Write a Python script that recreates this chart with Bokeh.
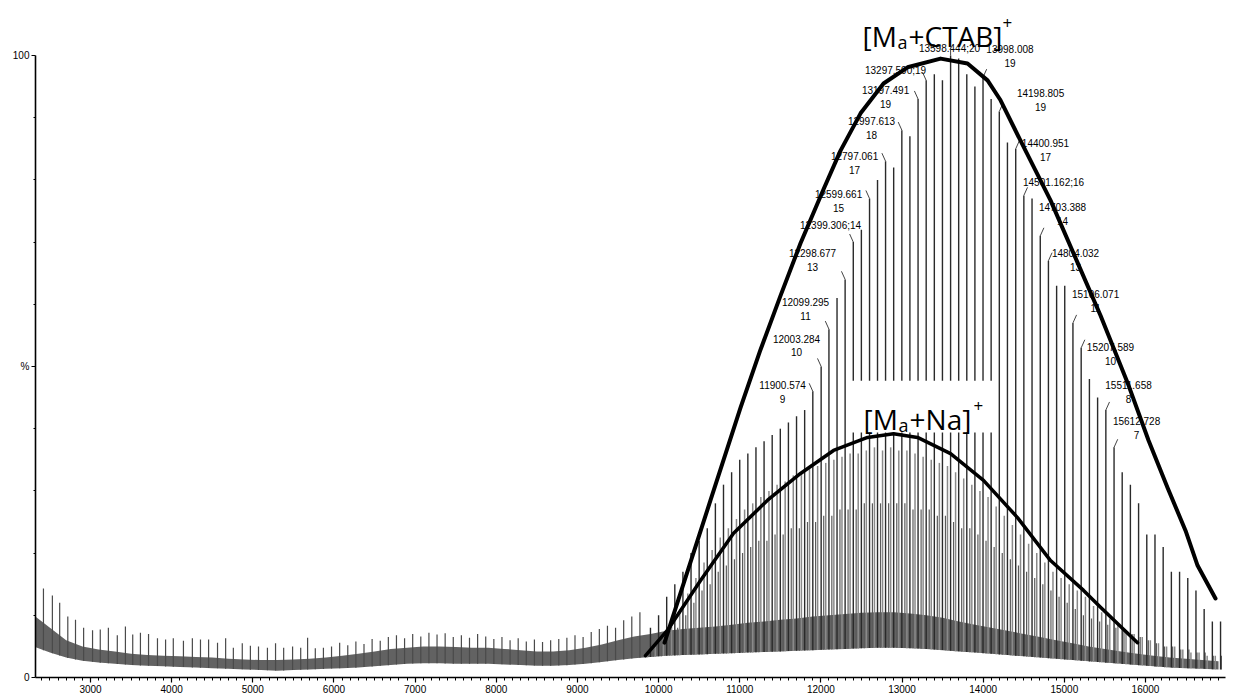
import numpy as np
from bokeh.plotting import figure
from bokeh.models import Range1d, SingleIntervalTicker, FixedTicker, Label, ColumnDataSource
from bokeh.core.properties import value
from bokeh.embed import file_html
from bokeh.resources import INLINE

# ---------------- data ----------------
# [Ma+CTAB]+ series (m/z, relative intensity %)
ctab_mz = [9900, 10000, 10100, 10200, 10300, 10400, 10500, 10600, 10700, 10800,
           10900, 11000, 11100, 11200, 11300, 11400, 11500, 11600, 11700, 11800,
           11900.574, 12003.284, 12099.295, 12199.0, 12298.677, 12399.306, 12499.0,
           12599.661, 12698.0, 12797.061, 12897.0, 12997.613, 13097.0, 13197.491,
           13297.590, 13398.0, 13498.0, 13598.444, 13698.0, 13798.0, 13898.0,
           13998.008, 14098.0, 14198.805, 14299.0, 14400.951, 14501.162, 14602.0,
           14703.388, 14804.032, 14905.0, 15005.0, 15106.071, 15207.589, 15309.0,
           15410.0, 15511.658, 15612.728, 15713.0, 15814.0, 15915.0, 16016.0,
           16117.0, 16218.0, 16319.0, 16420.0, 16521.0, 16622.0, 16723.0, 16824.0, 16925.0]
ctab_int = [8, 10, 13, 15, 17, 20, 22, 24, 28, 31,
            33, 35, 36, 37, 38, 39, 40, 41, 42, 43,
            46, 50, 56, 61, 64, 70, 72,
            77, 80, 83, 82, 88, 87, 93,
            96, 97, 96, 100, 99.5, 97, 95,
            96.5, 93, 91, 86, 85, 77.5, 77,
            71, 67, 63, 63, 57, 53, 48,
            45, 43, 37, 33, 31, 28, 23,
            23, 21, 17, 17, 16, 14, 11, 9, 9]

# [Ma+Na]+ series
na_mz = [9860, 9960, 10060, 10160, 10260, 10360, 10460, 10560, 10660, 10760,
         10860, 10960, 11060, 11160, 11260, 11360, 11460, 11560, 11660, 11760,
         11860, 11960, 12060, 12160, 12260, 12360, 12460, 12560, 12660, 12760,
         12860, 12960, 13060, 13160, 13260, 13360, 13460, 13560, 13660, 13760,
         13860, 13960, 14060, 14160, 14260, 14360, 14460, 14560, 14660, 14760,
         14860, 14960, 15060, 15160, 15260, 15360, 15460, 15560, 15660, 15760,
         15860, 15960, 16060, 16160, 16260, 16360, 16460, 16560, 16660, 16760, 16860]
na_int = [4, 5, 6.5, 8.5, 11, 13.5, 16, 18.5, 20.5, 22.5,
          24, 25.5, 27, 28, 29, 30, 31, 31.5, 32.5, 33,
          33.5, 34, 34.5, 35, 35.5, 36, 36, 36.5, 37, 36.5,
          37, 36.5, 36.5, 36, 35.5, 35, 34.5, 34, 33, 32,
          31, 30, 29, 27.5, 26, 24.5, 23, 21.5, 20, 18.5,
          17, 16, 15, 14, 13, 11.5, 10.5, 9.5, 8.5, 7.5,
          7, 6.5, 6, 5.5, 5, 5, 4.5, 4, 4, 3.5, 3.5]

# minor series between the two
oth_mz = [9935, 10035, 10135, 10235, 10335, 10435, 10535, 10635, 10735, 10835,
          10935, 11035, 11135, 11235, 11335, 11435, 11535, 11635, 11735, 11835,
          11935, 12035, 12135, 12235, 12335, 12435, 12535, 12635, 12735, 12835,
          12935, 13035, 13135, 13235, 13335, 13435, 13535, 13635, 13735, 13835,
          13935, 14035, 14135, 14235, 14335, 14435, 14535, 14635, 14735, 14835,
          14935, 15035, 15135, 15235, 15335, 15435, 15535, 15635, 15735, 15835,
          15935, 16035, 16135, 16235, 16335, 16435, 16535, 16635, 16735, 16835, 16935]
oth_int = [4, 5, 6, 8, 10, 12, 14, 15, 17, 18,
           19, 20, 21, 22, 22, 23, 23, 24, 24, 25,
           25, 26, 26, 27, 27, 27, 28, 28, 28, 28,
           28, 28, 27, 27, 27, 26, 26, 25, 24, 24,
           23, 22, 21, 20, 19, 18, 17, 16, 15, 14,
           13, 12, 11, 10, 9.5, 9, 8.5, 8, 7.5, 7,
           6.5, 6, 5.5, 5, 5, 4.5, 4.5, 4, 4, 3.5, 3.5]

# low-mass spikes
low_mz = [2420, 2530, 2620, 2720, 2815, 2915, 3025, 3120, 3220, 3330,
          3430, 3520, 3615, 3715, 3825, 3925, 4020, 4145, 4255, 4355,
          4455, 4565, 4665, 4760, 4870, 4970, 5070, 5180, 5280, 5380,
          5490, 5590, 5675, 5770, 5870, 5970, 6070, 6170, 6270, 6370,
          6470, 6570, 6670, 6770, 6870, 6970, 7070, 7170, 7270, 7370,
          7470, 7570, 7670, 7770, 7870, 7970, 8070, 8170, 8270, 8370,
          8470, 8570, 8670, 8770, 8870, 8970, 9070, 9170, 9270, 9370,
          9470, 9570, 9670, 9770]
low_int = [14.3, 13.2, 12.0, 9.8, 9.3, 8.0, 7.6, 7.7, 8.0, 6.8,
           8.2, 6.9, 7.2, 7.0, 6.3, 6.1, 6.3, 5.9, 6.3, 6.1,
           6.1, 5.6, 6.3, 4.8, 5.5, 5.1, 5.0, 4.8, 5.5, 4.8,
           5.0, 4.8, 6.4, 4.7, 4.8, 5.0, 5.6, 5.2, 5.8, 5.4,
           6.2, 5.9, 6.5, 6.8, 6.3, 7.0, 6.6, 7.2, 6.9, 7.1,
           6.5, 6.8, 6.4, 7.0, 6.6, 6.2, 6.5, 6.0, 6.3, 5.8,
           6.1, 5.7, 6.0, 6.2, 6.4, 6.8, 6.5, 7.3, 7.8, 8.3,
           8.0, 9.2, 9.8, 10.5]

# noise floor band
band_mz = [2300, 2500, 2700, 2900, 3100, 3300, 3500, 3700, 3900, 4100,
           4300, 4500, 4700, 4900, 5100, 5300, 5500, 5700, 5900, 6100,
           6300, 6500, 6700, 6900, 7100, 7300, 7500, 7700, 7900, 8100,
           8300, 8500, 8700, 8900, 9100, 9300, 9500, 9700, 9900, 10100,
           10300, 10500, 10700, 10900, 11100, 11300, 11500, 11700, 11900, 12100,
           12300, 12500, 12700, 12900, 13100, 13300, 13500, 13700, 13900, 14100,
           14300, 14500, 14700, 14900, 15100, 15300, 15500, 15700, 15900, 16100,
           16300, 16500, 16700, 16900]
band_lo = [5.0, 4.0, 3.2, 2.7, 2.4, 2.2, 2.0, 1.9, 1.8, 1.7,
           1.6, 1.5, 1.4, 1.3, 1.2, 1.1, 1.2, 1.3, 1.4, 1.5,
           1.6, 1.8, 2.0, 2.2, 2.3, 2.3, 2.2, 2.2, 2.2, 2.1,
           2.0, 1.9, 1.9, 2.0, 2.2, 2.5, 2.8, 3.1, 3.3, 3.5,
           3.6, 3.7, 3.8, 3.9, 4.0, 4.1, 4.2, 4.3, 4.4, 4.5,
           4.6, 4.7, 4.8, 4.8, 4.7, 4.6, 4.4, 4.2, 4.0, 3.8,
           3.6, 3.4, 3.2, 3.0, 2.8, 2.6, 2.4, 2.2, 2.0, 1.8,
           1.6, 1.5, 1.4, 1.3]
band_hi = [10.0, 8.0, 6.0, 5.0, 4.5, 4.2, 3.8, 3.6, 3.5, 3.4,
           3.3, 3.2, 3.0, 2.9, 2.8, 2.8, 2.9, 3.0, 3.2, 3.5,
           3.8, 4.2, 4.6, 4.8, 5.0, 5.0, 4.9, 4.8, 4.8, 4.6,
           4.4, 4.2, 4.2, 4.4, 4.8, 5.3, 6.0, 6.6, 7.0, 7.5,
           7.8, 8.0, 8.2, 8.5, 8.8, 9.0, 9.3, 9.5, 9.8, 10.0,
           10.2, 10.4, 10.5, 10.5, 10.3, 10.0, 9.6, 9.0, 8.5, 8.0,
           7.5, 7.0, 6.5, 6.0, 5.5, 5.0, 4.6, 4.2, 3.8, 3.5,
           3.2, 3.0, 2.8, 2.6]

# hand-drawn envelopes
ctab_curve_x = [10073, 10640, 11010, 11256, 11503, 11749, 12033, 12242, 12489, 12772,
                13068, 13475, 13807, 14054, 14214, 14460, 14830, 15163, 15446, 15779,
                16038, 16272, 16494, 16642, 16863]
ctab_curve_y = [5.6, 28.5, 43.4, 52.7, 61.4, 69.8, 78.5, 84.7, 90.7, 95.5,
                98.1, 99.5, 98.7, 96.0, 92.8, 86.3, 76.7, 66.7, 58.2, 47.4,
                38.1, 30.5, 23.6, 18.0, 12.7]
na_curve_x = [9839, 10110, 10517, 10924, 11343, 11749, 12156, 12575, 12895, 13191,
              13598, 14004, 14423, 14830, 15237, 15446, 15902]
na_curve_y = [3.5, 7.6, 15.6, 23.2, 28.5, 32.8, 36.5, 38.6, 39.2, 38.6,
              36.0, 31.7, 25.7, 18.8, 14.0, 11.3, 5.6]

# peak annotations
lab1 = ["11900.574", "12003.284", "12099.295", "12298.677", "12399.306;14", "12599.661",
        "12797.061", "12997.613", "13197.491", "13297.590;19", "13598.444;20", "13998.008",
        "14198.805", "14400.951", "14501.162;16", "14703.388", "14804.032", "15106.071",
        "15207.589", "15511.658", "15612.728"]
lab2 = ["9", "10", "11", "13", "", "15", "17", "18", "19", "", "", "19",
        "19", "17", "", "14", "13", "11", "10", "8", "7"]

# ---------------- layout (positions) ----------------
lab_x = [11528, 11700, 11811, 11897, 12119, 12218, 12415, 12624, 12797, 12920, 13585, 14330,
         14707, 14768, 14867, 14978, 15138, 15385, 15569, 15791, 15890]
lab_y = [47.1, 54.5, 60.3, 68.3, 72.7, 77.8, 83.9, 89.5, 94.4, 97.6, 101.1, 101.1,
         93.9, 85.9, 79.6, 75.6, 68.2, 61.6, 53.2, 47.1, 41.2]

SMALL = "Liberation Sans"
BIG = "Open Sans"

X0, X1 = 2322, 16986
p = figure(width=1247, height=698, x_range=Range1d(X0, X1), y_range=Range1d(0, 108.84),
           output_backend="svg", toolbar_location=None,
           min_border_left=35, min_border_right=22, min_border_top=0, min_border_bottom=21)
p.outline_line_color = None
p.xgrid.visible = False
p.ygrid.visible = False
p.background_fill_color = "white"

# x axis
xa = p.xaxis[0]
xa.ticker = SingleIntervalTicker(interval=1000, num_minor_ticks=10)
xa.axis_line_width = 1.6
xa.major_tick_in = 0
xa.major_tick_out = 5
xa.minor_tick_in = 0
xa.minor_tick_out = 3
xa.major_tick_line_width = 1.2
xa.minor_tick_line_width = 1.0
xa.major_label_standoff = 2
xa.major_label_text_font = SMALL
xa.major_label_text_font_size = "10px"
xa.major_label_text_color = "black"

# y axis
ya = p.yaxis[0]
ya.ticker = FixedTicker(ticks=[0, 50, 100], minor_ticks=[10, 20, 30, 40, 60, 70, 80, 90])
ya.major_label_overrides = {50: "%"}
ya.bounds = (0, 100)
ya.axis_line_width = 1.6
ya.major_tick_in = 0
ya.major_tick_out = 4
ya.minor_tick_in = 0
ya.minor_tick_out = 2
ya.major_label_standoff = 2
ya.major_label_text_font = SMALL
ya.major_label_text_font_size = "10px"
ya.major_label_text_color = "black"

# noise floor
p.varea(x=band_mz, y1=band_lo, y2=band_hi, fill_color="#626262")

def sticks(mz, inten, color, width):
    base = np.interp(mz, band_mz, band_lo)
    src = ColumnDataSource(dict(x=mz, y0=base, y1=inten))
    p.segment(x0="x", y0="y0", x1="x", y1="y1", source=src, line_color=color, line_width=width)

sticks(low_mz, low_int, "#4a4a4a", 1.2)
sticks(oth_mz, oth_int, "#5a5a5a", 1.2)
sticks(na_mz, na_int, "#8a8a8a", 1.5)
sticks(ctab_mz, ctab_int, "#2a2a2a", 1.4)

# white box behind Na label
p.quad(left=[12341], right=[14152], bottom=[39.4], top=[47.7], fill_color="white", line_color=None)

# peak labels
p.text(x=lab_x, y=lab_y, text=lab1, text_align="center", text_baseline="middle",
       text_font=value(SMALL), text_font_size="10px", text_color="black")
p.text(x=lab_x, y=[v - 2.25 for v in lab_y], text=lab2, text_align="center", text_baseline="middle",
       text_font=value(SMALL), text_font_size="10px", text_color="black")

# leaders
hmap = dict(zip(ctab_mz, ctab_int))
lx0, ly0, lx1, ly1 = [], [], [], []
for t in lab1:
    m = float(t.split(";")[0])
    h = hmap[m]
    d = -1 if m < 13500 else (0 if m < 13700 else 1)
    lx0.append(m + d * 45)
    ly0.append(h + 1.3)
    lx1.append(m)
    ly1.append(h)
p.segment(x0=lx0, y0=ly0, x1=lx1, y1=ly1, line_color="#444444", line_width=1)

# envelopes
p.line(ctab_curve_x, ctab_curve_y, line_color="black", line_width=4, line_join="round", line_cap="round")
p.line(na_curve_x, na_curve_y, line_color="black", line_width=3.5, line_join="round", line_cap="round")

# big labels made of pieces (main, subscript, superscript)
def big_label(ax, ay, main1, main2, offs):
    src = ColumnDataSource(dict(x=[ax, ax], y=[ay, ay], t=[main1, main2], dx=[offs[0], offs[2]]))
    p.text(x="x", y="y", text="t", x_offset="dx", source=src, text_align="left",
           text_baseline="alphabetic", text_font=value(BIG), text_font_size="28px", text_color="black")
    p.text(x=[ax], y=[ay - 1.0], text=["a"], x_offset=offs[1], text_align="left",
           text_baseline="alphabetic", text_font=value(BIG), text_font_size="18px", text_color="black")
    p.text(x=[ax], y=[ay + 2.1], text=["+"], x_offset=offs[3], text_align="left",
           text_baseline="alphabetic", text_font=value(BIG), text_font_size="17px", text_color="black")

big_label(12513, 103.2, "[M", "+CTAB]", [0, 35, 46, 140])
big_label(12526, 41.6, "[M", "+Na]", [0, 35, 46, 110])

# x axis title
p.add_layout(Label(x=X1, y=0, text="m/z", x_offset=3, text_align="left", text_baseline="middle",
                   text_font=SMALL, text_font_size="10px", text_color="black"))

open("out.html", "w").write(file_html(p, INLINE))
